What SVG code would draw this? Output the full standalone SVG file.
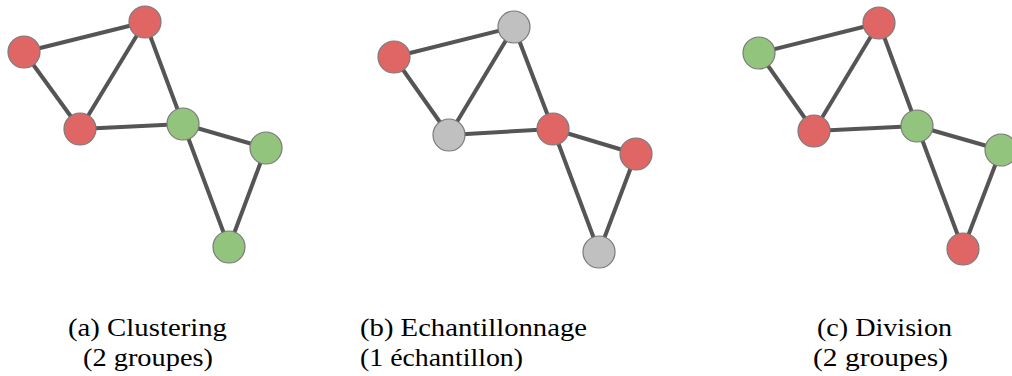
<svg xmlns="http://www.w3.org/2000/svg" width="1012" height="376" viewBox="0 0 1012 376">
<style>
.e{stroke:#555;stroke-width:4;stroke-linecap:round;fill:none}
.n{stroke:#7a7a7a;stroke-width:1.2}
.r{fill:#e06666}
.g{fill:#93c47d}
.k{fill:#c0c0c0}
.t{font-family:"Liberation Serif","DejaVu Serif",serif;font-size:26px;fill:#000}
</style>
<rect width="1012" height="376" fill="#fff"/>
<g id="connectors">
<g id="edges-a">
<line class="e" x1="24" y1="52" x2="145" y2="22"/>
<line class="e" x1="24" y1="52" x2="80" y2="129"/>
<line class="e" x1="145" y1="22" x2="80" y2="129"/>
<line class="e" x1="145" y1="22" x2="183" y2="124"/>
<line class="e" x1="80" y1="129" x2="183" y2="124"/>
<line class="e" x1="183" y1="124" x2="266" y2="148"/>
<line class="e" x1="183" y1="124" x2="229" y2="247"/>
<line class="e" x1="266" y1="148" x2="229" y2="247"/>
</g>
<g id="edges-b">
<line class="e" x1="394" y1="57" x2="514" y2="27"/>
<line class="e" x1="394" y1="57" x2="449" y2="135"/>
<line class="e" x1="514" y1="27" x2="449" y2="135"/>
<line class="e" x1="514" y1="27" x2="553" y2="129"/>
<line class="e" x1="449" y1="135" x2="553" y2="129"/>
<line class="e" x1="553" y1="129" x2="636" y2="154"/>
<line class="e" x1="553" y1="129" x2="599" y2="252"/>
<line class="e" x1="636" y1="154" x2="599" y2="252"/>
</g>
<g id="edges-c">
<line class="e" x1="759" y1="53" x2="879" y2="23"/>
<line class="e" x1="759" y1="53" x2="814" y2="131"/>
<line class="e" x1="879" y1="23" x2="814" y2="131"/>
<line class="e" x1="879" y1="23" x2="917" y2="126"/>
<line class="e" x1="814" y1="131" x2="917" y2="126"/>
<line class="e" x1="917" y1="126" x2="1001" y2="150"/>
<line class="e" x1="917" y1="126" x2="963" y2="249"/>
<line class="e" x1="1001" y1="150" x2="963" y2="249"/>
</g>
</g>
<g id="a1"><circle class="n r" cx="24" cy="52" r="16"/></g>
<g id="a2"><circle class="n r" cx="145" cy="22" r="16"/></g>
<g id="a3"><circle class="n r" cx="80" cy="129" r="16"/></g>
<g id="a4"><circle class="n g" cx="183" cy="124" r="16"/></g>
<g id="a5"><circle class="n g" cx="266" cy="148" r="16"/></g>
<g id="a6"><circle class="n g" cx="229" cy="247" r="16"/></g>
<g id="b1"><circle class="n r" cx="394" cy="57" r="16"/></g>
<g id="b2"><circle class="n k" cx="514" cy="27" r="16"/></g>
<g id="b3"><circle class="n k" cx="449" cy="135" r="16"/></g>
<g id="b4"><circle class="n r" cx="553" cy="129" r="16"/></g>
<g id="b5"><circle class="n r" cx="636" cy="154" r="16"/></g>
<g id="b6"><circle class="n k" cx="599" cy="252" r="16"/></g>
<g id="c1"><circle class="n g" cx="759" cy="53" r="16"/></g>
<g id="c2"><circle class="n r" cx="879" cy="23" r="16"/></g>
<g id="c3"><circle class="n r" cx="814" cy="131" r="16"/></g>
<g id="c4"><circle class="n g" cx="917" cy="126" r="16"/></g>
<g id="c5"><circle class="n g" cx="1001" cy="150" r="16"/></g>
<g id="c6"><circle class="n r" cx="963" cy="249" r="16"/></g>
<g id="captions">
<text class="t" x="68" y="336" textLength="159" lengthAdjust="spacingAndGlyphs">(a) Clustering</text>
<text class="t" x="83" y="366" textLength="130" lengthAdjust="spacingAndGlyphs">(2 groupes)</text>
<text class="t" x="360" y="336" textLength="227" lengthAdjust="spacingAndGlyphs">(b) Echantillonnage</text>
<text class="t" x="360" y="366" textLength="163" lengthAdjust="spacingAndGlyphs">(1 échantillon)</text>
<text class="t" x="817" y="336" textLength="135" lengthAdjust="spacingAndGlyphs">(c) Division</text>
<text class="t" x="813" y="366" textLength="135" lengthAdjust="spacingAndGlyphs">(2 groupes)</text>
</g>
</svg>
